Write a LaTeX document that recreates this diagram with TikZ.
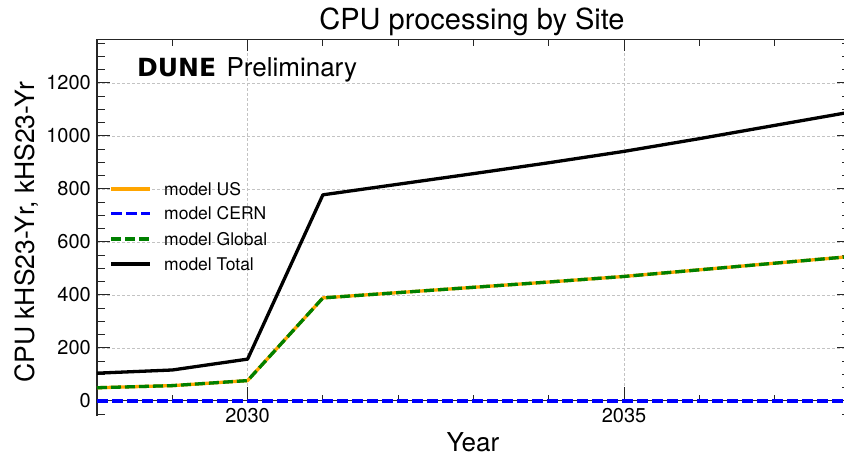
\documentclass[tikz,border=0pt]{standalone}
\usepackage{fontspec}
\setmainfont{TeX Gyre Heros}
\newfontfamily\dunefont{DejaVu Sans}
\usetikzlibrary{positioning}

\definecolor{usorange}{RGB}{255,165,0}
\definecolor{cernblue}{RGB}{0,0,255}
\definecolor{globgreen}{RGB}{0,128,0}
\definecolor{gridgray}{RGB}{195,195,195}

\begin{document}
\begin{tikzpicture}[x=75.3pt, y=0.265pt,
	usline/.style={usorange, line width=3.3pt, line join=round},
	cernline/.style={cernblue, line width=3.3pt, dash pattern=on 11pt off 4pt},
	globline/.style={globgreen, line width=3.3pt, dash pattern=on 10pt off 4pt, line join=round},
	totline/.style={black, line width=3.3pt, line join=round},
	gridline/.style={gridgray, line width=0.7pt, dash pattern=on 3pt off 2pt},
	axisline/.style={black!85, line width=1.2pt},
	tickline/.style={black!85, line width=1pt},
	ticklab/.style={font=\fontsize{20}{24}\selectfont, inner sep=0pt},
	legtext/.style={font=\fontsize{17.5}{21}\selectfont, anchor=west, inner sep=0pt}]
	
	\clip (-97pt,-56pt) rectangle (747pt,401pt);
	
	% grid
	\foreach \v in {200,400,...,1200}
		\draw[gridline] (0,\v) -- (10,\v);
	\foreach \t in {2,7}
		\draw[gridline] (\t,0) -- (\t,1364);
	
	% frame and axis at zero
	\draw[axisline] (0,-57) -- (0,1364) -- (10,1364) -- (10,-57);
	\draw[tickline] (0,0) -- (10,0);
	
	% ticks
	\foreach \t in {0,...,10} {
		\draw[tickline] (\t,0) -- ++(0,6pt);
		\draw[tickline] (\t,1364) -- ++(0,-6pt);
	}
	\foreach \t in {2,7} {
		\draw[tickline] (\t,0) -- ++(0,14pt);
		\draw[tickline] (\t,1364) -- ++(0,-11pt);
	}
	\foreach \v in {-50,0,...,1350} {
		\draw[tickline] (0,\v) -- ++(8pt,0);
		\draw[tickline] (10,\v) -- ++(-8pt,0);
	}
	\foreach \v in {0,200,...,1200} {
		\draw[tickline] (0,\v) -- ++(13pt,0);
		\draw[tickline] (10,\v) -- ++(-13pt,0);
		\node[ticklab, anchor=east] (yl\v) at ([xshift=-6pt]0,\v) {\v};
	}
	\node[ticklab, anchor=north] (xl2030) at ([yshift=-7pt]2,0) {2030};
	\node[ticklab, anchor=north] (xl2035) at ([yshift=-7pt]7,0) {2035};
	
	% titles
	\node[font=\fontsize{29}{34}\selectfont, anchor=base, inner sep=0pt] (title) at (375pt,371.5pt) {CPU processing by Site};
	\node[font=\fontsize{26}{30}\selectfont, anchor=base, inner sep=0pt] (xtitle) at (376pt,-51pt) {Year};
	\node[font=\fontsize{26.5}{30}\selectfont, rotate=90, anchor=base, inner sep=0pt] (ytitle) at (-62pt,169pt) {CPU kHS23-Yr, kHS23-Yr};
	\node[font=\fontsize{25}{30}\selectfont\dunefont\bfseries, anchor=base west, inner sep=0pt] (dune) at (40pt,324.3pt) {DUNE};
	\node[font=\fontsize{26}{30}\selectfont, inner sep=0pt, right=10pt of dune.base east, anchor=base west] (prelim) {Preliminary};
	
	% data
	\draw[usline] plot coordinates {(0,50) (1,58) (2,77) (3,389) (4,409) (5,429) (6,449) (7,470) (8,495) (9,520) (10,545)};
	\draw[globline] plot coordinates {(0,50) (1,58) (2,77) (3,389) (4,409) (5,429) (6,449) (7,470) (8,495) (9,520) (10,545)};
	\draw[cernline] plot coordinates {(0,0) (10,0)};
	\draw[totline] plot coordinates {(0,105) (1,117) (2,158) (3,778) (4,818) (5,858) (6,899) (7,942) (8,990) (9,1040) (10,1090)};
	
	% legend
	\foreach \sty/\lab/\yy in {usline/US/212, cernline/CERN/187.7, globline/Global/162, totline/Total/137} {
		\draw[\sty] (14pt,\yy pt) -- (53pt,\yy pt);
		\node[legtext] (leg\lab) at (67pt,\yy pt) {model \lab};
	}
	
\end{tikzpicture}
\end{document}
